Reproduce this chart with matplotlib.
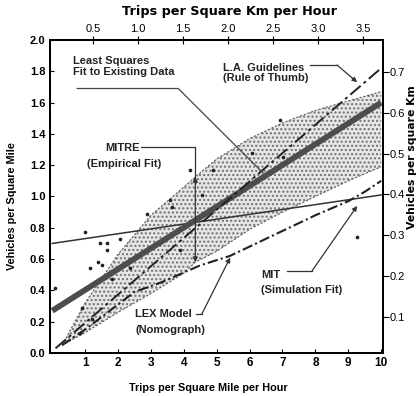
import matplotlib
matplotlib.use("Agg")
import matplotlib.pyplot as plt

# ---------------- data ----------------
x_ticks = [1, 2, 3, 4, 5, 6, 7, 8, 9, 10]
y_ticks = [0.0, 0.2, 0.4, 0.6, 0.8, 1.0, 1.2, 1.4, 1.6, 1.8, 2.0]
top_ticks = [0.5, 1.0, 1.5, 2.0, 2.5, 3.0, 3.5]
right_ticks = [0.1, 0.2, 0.3, 0.4, 0.5, 0.6, 0.7]

# least squares fit (thick grey line)
ls_x = [0.0, 10.0]
ls_y = [0.27, 1.60]
# L.A. guidelines (dash-dot)
la_x = [0.1, 10.0]
la_y = [0.03, 1.82]
# MIT simulation fit (thin solid line)
mit_x = [0.0, 10.0]
mit_y = [0.70, 1.01]
# LEX model (nomograph)
lex_x = [0.3, 1.0, 2.0, 2.5, 3.3, 4.5, 5.4, 7.0, 8.0, 9.0, 9.5, 10.0]
lex_y = [0.05, 0.15, 0.31, 0.39, 0.45, 0.56, 0.62, 0.78, 0.88, 0.97, 1.03, 1.10]
# MITRE empirical band
band_x = [0.3, 1.0, 2.0, 3.0, 4.0, 4.35, 5.0, 6.0, 7.0, 8.0, 9.0, 10.0]
band_upper = [0.05, 0.32, 0.63, 0.88, 1.06, 1.125, 1.24, 1.37, 1.47, 1.55, 1.61, 1.67]
band_lower = [0.05, 0.13, 0.26, 0.38, 0.51, 0.58, 0.65, 0.79, 0.90, 1.00, 1.10, 1.19]
# existing data points
pts_x = [4.19, 4.89, 4.56, 2.89, 3.59, 3.65, 6.93, 7.02, 6.08, 1.00, 2.07, 1.46,
         1.67, 1.67, 1.40, 1.52, 1.16, 2.37, 1.82, 0.09, 0.91, 1.22, 0.85, 3.89, 9.27]
pts_y = [1.17, 1.17, 1.01, 0.89, 0.98, 0.93, 1.49, 1.25, 1.28, 0.77, 0.73, 0.70,
         0.70, 0.66, 0.58, 0.56, 0.54, 0.54, 0.47, 0.415, 0.29, 0.22, 0.13, 0.66, 0.74]

FONT = dict(family=["Liberation Sans", "DejaVu Sans"])
WIDE = dict(family=["DejaVu Sans"])

fig = plt.figure(figsize=(4.17, 3.96), dpi=100)
ax = fig.add_axes([0.119, 0.1086, 0.7998, 0.7904])
ax.set_xlim(-0.08, 10.06)
ax.set_ylim(0, 2.0)

# band
ax.fill_between(band_x, band_lower, band_upper, facecolor="#e6e6e6",
                edgecolor="#707070", hatch="....", linewidth=0, zorder=1)
ax.plot(band_x, band_upper, color="#5a5a5a", lw=0.8, ls=(0, (2, 1.5)), zorder=2)
ax.plot(band_x, band_lower, color="#5a5a5a", lw=0.8, ls=(0, (2, 1.5)), zorder=2)

# lines
ax.plot(ls_x, ls_y, color="#4d4d4d", lw=4.2, solid_capstyle="butt", zorder=4)
ax.plot(la_x, la_y, color="#222222", lw=1.4, ls=(0, (7, 2, 1.5, 2)), zorder=5)
ax.plot(mit_x, mit_y, color="#333333", lw=1.1, zorder=3)
ax.plot(lex_x, lex_y, color="#222222", lw=1.5, ls=(0, (5, 1.5, 1, 1.5)), zorder=5)

ax.scatter(pts_x, pts_y, s=7, color="#222222", zorder=6, linewidths=0)

# axes styling
for s in ax.spines.values():
    s.set_linewidth(1.4)
ax.set_xticks(x_ticks)
ax.set_xticklabels([str(v) for v in x_ticks], fontsize=8.5, fontweight="bold", **FONT)
ax.set_yticks(y_ticks)
ax.set_yticklabels(["%.1f" % v for v in y_ticks], fontsize=8, fontweight="bold", **FONT)
ax.tick_params(axis="both", direction="in", length=3, width=0.8, pad=3)
ax.set_xlabel("Trips per Square Mile per Hour", fontsize=7.8, fontweight="bold", **FONT)
ax.set_ylabel("Vehicles per Square Mile", fontsize=7.8, fontweight="bold", **FONT)
ax.xaxis.set_label_coords(0.475, -0.095)
ax.yaxis.set_label_coords(-0.097, 0.47)

# top axis (per square km)
axt = ax.twiny()
axt.set_xlim(0.017, 3.72)
axt.set_xticks(top_ticks)
axt.set_xticklabels(["%.1f" % v for v in top_ticks], fontsize=8, **FONT)
axt.tick_params(axis="x", direction="inout", length=6, width=0.8, pad=1)
axt.set_xlabel("Trips per Square Km per Hour", fontsize=9.2, fontweight="bold", **WIDE)
axt.xaxis.set_label_coords(0.54, 1.08)

# right axis (per square km)
axr = ax.twinx()
axr.set_ylim(0.012, 0.778)
axr.set_yticks(right_ticks)
axr.set_yticklabels(["%.1f" % v for v in right_ticks], fontsize=8, **FONT)
axr.tick_params(axis="y", direction="out", length=4, width=0.8, pad=1)
axr.set_ylabel("Vehicles per square Km", fontsize=7.8, fontweight="bold", **WIDE)
axr.yaxis.set_label_coords(1.072, 0.626)
for a in (axt, axr):
    for s in a.spines.values():
        s.set_linewidth(1.4)

# annotations
tk = dict(fontsize=8, fontweight="bold", color="#222222", **FONT)
ax.text(0.64, 1.83, "Least Squares\nFit to Existing Data", ha="left", va="center",
        linespacing=1.05, **tk)
ax.plot([0.76, 3.83, 6.41], [1.69, 1.69, 1.15], color="#444444", lw=0.9, zorder=7)

ax.text(5.2, 1.79, "L.A. Guidelines\n(Rule of Thumb)", ha="left", va="center",
        linespacing=1.05, **tk)
ax.plot([7.85, 8.66], [1.84, 1.84], color="#333333", lw=0.9)
ax.annotate("", xy=(9.27, 1.73), xytext=(8.66, 1.84),
            arrowprops=dict(arrowstyle="-|>", color="#333333", lw=0.9,
                            mutation_scale=7, shrinkA=0, shrinkB=0))

ax.text(2.67, 1.31, "MITRE", ha="right", va="center", **tk)
ax.text(2.2, 1.21, "(Empirical Fit)", ha="center", va="center", **tk)
ax.plot([2.70, 4.35, 4.35], [1.316, 1.316, 1.125], color="#333333", lw=0.9, zorder=7)
ax.annotate("", xy=(4.35, 0.58), xytext=(4.35, 1.125),
            arrowprops=dict(arrowstyle="<|-|>", color="#333333", lw=0.9,
                            mutation_scale=7, shrinkA=0, shrinkB=0), zorder=7)

ax.text(2.52, 0.25, "LEX Model", ha="left", va="center", **tk)
ax.text(2.52, 0.15, "(Nomograph)", ha="left", va="center", **tk)
ax.plot([4.38, 4.55], [0.25, 0.25], color="#333333", lw=0.9)
ax.annotate("", xy=(5.41, 0.61), xytext=(4.55, 0.25),
            arrowprops=dict(arrowstyle="-|>", color="#333333", lw=0.9,
                            mutation_scale=7, shrinkA=0, shrinkB=0))

ax.text(6.35, 0.50, "MIT", ha="left", va="center", **tk)
ax.text(6.35, 0.40, "(Simulation Fit)", ha="left", va="center", **tk)
ax.plot([7.15, 7.9], [0.525, 0.525], color="#333333", lw=0.9)
ax.annotate("", xy=(9.27, 0.94), xytext=(7.9, 0.525),
            arrowprops=dict(arrowstyle="-|>", color="#333333", lw=0.9,
                            mutation_scale=7, shrinkA=0, shrinkB=0))

fig.savefig("out.png", dpi=100)
